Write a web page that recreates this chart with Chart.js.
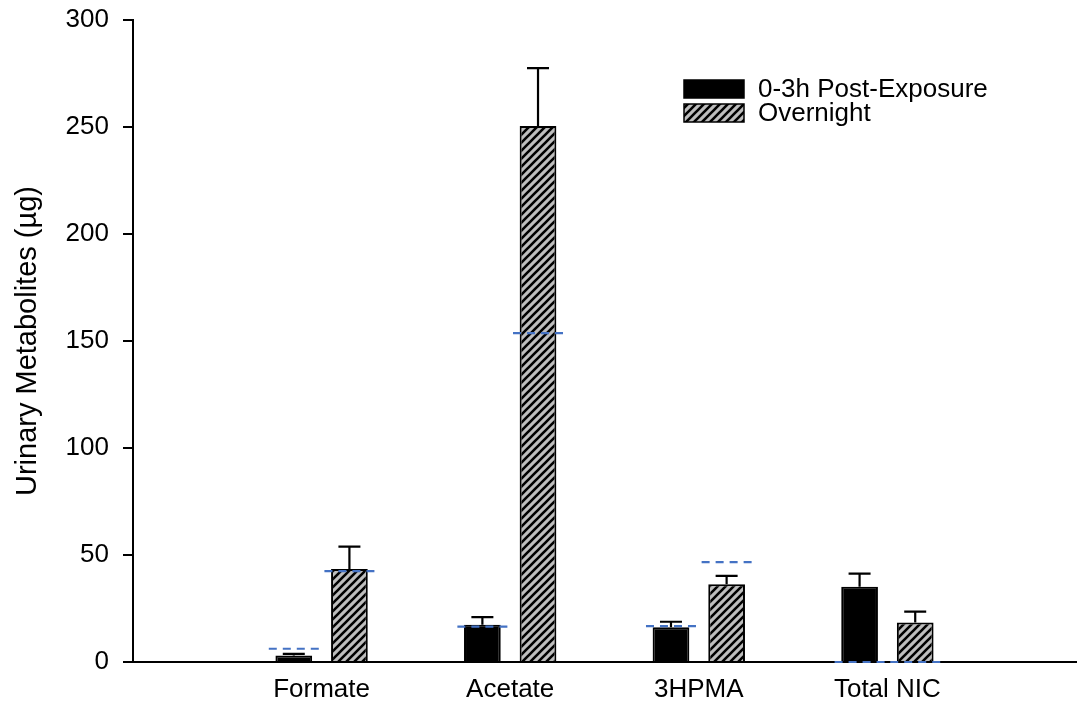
<!DOCTYPE html>
<html>
<head>
<meta charset="utf-8">
<title>Urinary Metabolites</title>
<script src="https://cdn.jsdelivr.net/npm/chart.js@4.4.1/dist/chart.umd.min.js"></script>
<style>
  html, body { margin: 0; padding: 0; background: #fff; }
  canvas { display: block; }
</style>
</head>
<body>
<canvas id="metaboliteChart" width="1078" height="704"></canvas>
<script>
// Chart data
const categories = ["Formate", "Acetate", "3HPMA", "Total NIC"];
const postExposure = [3, 17.4, 16.2, 35.2];
const postExposureErr = [0.8, 3.6, 2.6, 6.1];
const overnight = [43.5, 250.5, 36.3, 18.5];
const overnightErr = [10.4, 27, 3.9, 5];
// blue dashed reference levels drawn over each bar
const postExposureRef = [6.2, 16.5, 16.8, 0];
const overnightRef = [42.5, 153.7, 46.7, 0];
const yTicks = [0, 50, 100, 150, 200, 250, 300];

const FONT = '"Liberation Sans", Arial, sans-serif';

// Grey fill with black "/" stripes
function makeHatch() {
    const size = 8;
    const c = document.createElement("canvas");
    c.width = size;
    c.height = size;
    const g = c.getContext("2d");
    g.fillStyle = "#bdbdbd";
    g.fillRect(0, 0, size, size);
    g.strokeStyle = "#000";
    g.lineWidth = 2.6;
    g.beginPath();
    g.moveTo(-1, size + 1); g.lineTo(size + 1, -1);
    g.moveTo(-1, 1); g.lineTo(1, -1);
    g.moveTo(size - 1, size + 1); g.lineTo(size + 1, size - 1);
    g.stroke();
    return g.createPattern(c, "repeat");
}
const hatch = makeHatch();

const errors = [postExposureErr, overnightErr];
const refs = [postExposureRef, overnightRef];

// Upward error bars with caps
const errorBarPlugin = {
    id: "errorBars",
    afterDatasetsDraw(chart) {
        const ctx = chart.ctx;
        const y = chart.scales.y;
        ctx.save();
        ctx.strokeStyle = "#000";
        ctx.lineWidth = 2.2;
        chart.data.datasets.forEach((ds, d) => {
            chart.getDatasetMeta(d).data.forEach((bar, i) => {
                const top = y.getPixelForValue(ds.data[i].y + errors[d][i]);
                ctx.beginPath();
                ctx.moveTo(bar.x, bar.y);
                ctx.lineTo(bar.x, top);
                ctx.moveTo(bar.x - 11, top);
                ctx.lineTo(bar.x + 11, top);
                ctx.stroke();
            });
        });
        ctx.restore();
    }
};

// Dashed blue reference lines and the legend, on top of everything
const overlayPlugin = {
    id: "overlay",
    afterDraw(chart) {
        const ctx = chart.ctx;
        const y = chart.scales.y;
        ctx.save();
        ctx.strokeStyle = "#4472c4";
        ctx.lineWidth = 2.2;
        ctx.setLineDash([8, 6]);
        chart.data.datasets.forEach((ds, d) => {
            chart.getDatasetMeta(d).data.forEach((bar, i) => {
                const py = y.getPixelForValue(refs[d][i]);
                ctx.beginPath();
                ctx.moveTo(bar.x - 25, py);
                ctx.lineTo(bar.x + 25, py);
                ctx.stroke();
            });
        });
        ctx.setLineDash([]);

        // legend
        const items = chart.data.datasets;
        ctx.font = "26px " + FONT;
        ctx.textBaseline = "middle";
        items.forEach((ds, k) => {
            const top = 80 + k * 24;
            ctx.fillStyle = ds.backgroundColor;
            ctx.fillRect(684, top, 60, 18);
            ctx.strokeStyle = "#000";
            ctx.lineWidth = 1.5;
            ctx.strokeRect(684, top, 60, 18);
            ctx.fillStyle = "#000";
            ctx.fillText(ds.label, 758, top + 10);
        });
        ctx.restore();
    }
};

const chart = new Chart(document.getElementById("metaboliteChart"), {
    type: "bar",
    data: {
        datasets: [
            {
                label: "0-3h Post-Exposure",
                data: postExposure.map((v, i) => ({ x: i + 1, y: v })),
                backgroundColor: "#000",
                borderColor: "#000",
                borderWidth: 2
            },
            {
                label: "Overnight",
                data: overnight.map((v, i) => ({ x: i + 1, y: v })),
                backgroundColor: hatch,
                borderColor: "#000",
                borderWidth: 2
            }
        ]
    },
    options: {
        responsive: false,
        animation: false,
        devicePixelRatio: 1,
        categoryPercentage: 0.59,
        barPercentage: 0.66,
        layout: { padding: { top: 20, right: 2, left: 0, bottom: 0 } },
        plugins: {
            legend: { display: false },
            tooltip: { enabled: false }
        },
        scales: {
            x: {
                type: "linear",
                min: 0,
                max: 5,
                offset: false,
                afterBuildTicks: (scale) => {
                    scale.ticks = categories.map((c, i) => ({ value: i + 1 }));
                },
                afterFit: (scale) => {
                    scale.height = 42;
                    scale.paddingLeft = 0;
                    scale.paddingRight = 0;
                },
                grid: { display: false, drawTicks: false },
                border: { display: true, color: "#000", width: 2 },
                ticks: {
                    autoSkip: false,
                    maxRotation: 0,
                    padding: 12,
                    color: "#000",
                    font: { family: FONT, size: 26 },
                    callback: (value) => categories[value - 1] || ""
                }
            },
            y: {
                min: 0,
                max: 300,
                afterBuildTicks: (scale) => {
                    scale.ticks = yTicks.map((v) => ({ value: v }));
                },
                afterFit: (scale) => {
                    scale.width = 133;
                    scale.paddingTop = 0;
                    scale.paddingBottom = 0;
                },
                grid: {
                    drawOnChartArea: false,
                    drawTicks: true,
                    tickLength: 10,
                    color: "#000",
                    lineWidth: 2
                },
                border: { display: true, color: "#000", width: 2 },
                ticks: {
                    padding: 14,
                    color: "#000",
                    font: { family: FONT, size: 26 }
                },
                title: {
                    display: true,
                    text: "Urinary Metabolites (µg)",
                    color: "#000",
                    padding: { top: 11, bottom: 0 },
                    font: { family: FONT, size: 29 }
                }
            }
        }
    },
    plugins: [errorBarPlugin, overlayPlugin]
});
</script>
</body>
</html>
